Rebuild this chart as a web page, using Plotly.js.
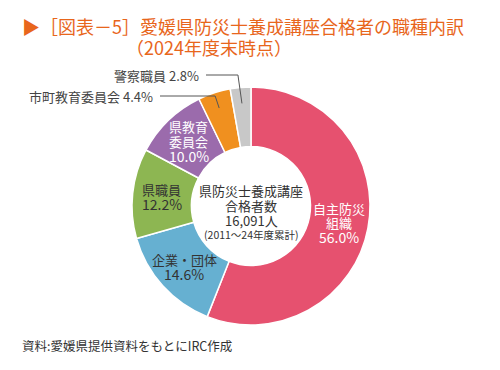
<!DOCTYPE html>
<html><head><meta charset="utf-8">
<script src="https://cdn.plot.ly/plotly-3.0.1.min.js"></script>
<style>body{margin:0;background:#fff}#c{width:500px;height:370px}</style>
</head><body><div id="c"></div>
<script>
const categories = ["自主防災組織", "企業・団体", "県職員", "県教育委員会", "市町教育委員会", "警察職員"];
const shares = [56.0, 14.6, 12.2, 10.0, 4.4, 2.8];
const labelLines = [["自主防災", "組織"], ["企業・団体"], ["県職員"], ["県教育", "委員会"], ["市町教育委員会"], ["警察職員"]];
const colors = ["#E6516F", "#66B0D1", "#8DB652", "#9B6BAC", "#F0901F", "#C8C8C8"];
const labelColors = ["#ffffff", "#333333", "#333333", "#ffffff", "#444444", "#444444"];
const centerLines = ["県防災士養成講座", "合格者数", "16,091人"];
const centerNote = "(2011～24年度累計)";

const W = 500, H = 370;
const cx = 251, cy = 206, R = 119;
const FONT = "Noto Sans CJK JP, Noto Sans, sans-serif";
const px = x => x / W, py = y => 1 - y / H;

const total = shares.reduce((a, b) => a + b, 0);
const annotations = [];
const shapes = [];
function addText(x, y, text, size, color, anchor) {
  annotations.push({
    xref: "paper", yref: "paper", x: px(x), y: py(y), xanchor: anchor || "center", yanchor: "middle",
    text: text, showarrow: false, align: "center",
    font: {family: FONT, size: size, color: color}
  });
}
let cum = 0;
shares.forEach((v, i) => {
  const mid = (cum + v / 2) / total * 2 * Math.PI;
  cum += v;
  const pct = v.toFixed(1) + "%";
  if (v >= 8) {
    const r = 90;
    const x = cx + r * Math.sin(mid), y = cy - r * Math.cos(mid);
    const lines = labelLines[i].concat([pct]);
    const lh = 14.5;
    lines.forEach((t, k) => {
      addText(x, y + (k - (lines.length - 1) / 2) * lh, t, k === lines.length - 1 ? 14 : 13, labelColors[i]);
    });
  } else {
    const rIn = 103;
    const ex = cx + rIn * Math.sin(mid), ey = cy - rIn * Math.cos(mid);
    const ly = i === 4 ? 96 : 75;
    const lineStart = i === 4 ? 160 : 206;
    const bx = ex - 4;
    shapes.push({type: "path", xref: "paper", yref: "paper",
      path: `M ${px(lineStart)} ${py(ly)} L ${px(bx)} ${py(ly)} L ${px(ex)} ${py(ey)}`,
      line: {color: "#555555", width: 1}});
    addText(lineStart - 5, ly, labelLines[i][0] + " " + pct, 13, labelColors[i], "right");
  }
});

const cyTop = 191, clh = 14.5;
centerLines.forEach((t, k) => addText(cx, cyTop + k * clh, t, 13, "#333333"));
addText(cx, cyTop + 3 * clh, centerNote, 10.5, "#333333");

addText(20, 26, "▶［図表－5］愛媛県防災士養成講座合格者の職種内訳", 18, "#E8661C", "left");
addText(124, 47, "（2024年度末時点）", 18, "#E8661C", "left");
addText(20, 345, "資料:愛媛県提供資料をもとにIRC作成", 12.5, "#333333", "left");

const trace = {
  type: "pie", values: shares, labels: categories, sort: false, direction: "clockwise",
  rotation: 0, hole: 0.5, textinfo: "none", hoverinfo: "none",
  marker: {colors: colors, line: {color: "#ffffff", width: 1.5}},
  domain: {x: [(cx - R) / W, (cx + R) / W], y: [1 - (cy + R) / H, 1 - (cy - R) / H]},
  showlegend: false
};

Plotly.newPlot("c", [trace], {
  width: W, height: H, margin: {l: 0, r: 0, t: 0, b: 0},
  paper_bgcolor: "#ffffff", annotations: annotations, shapes: shapes,
  font: {family: FONT}
}, {staticPlot: true});
</script></body></html>
